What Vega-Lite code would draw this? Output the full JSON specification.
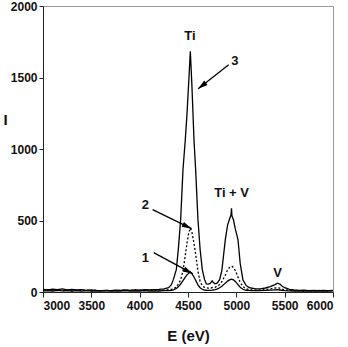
{
  "$schema": "https://vega.github.io/schema/vega-lite/v6.json",
  "width": 290,
  "height": 286,
  "autosize": {"type": "none"},
  "padding": {"left": 43, "top": 6, "right": 15, "bottom": 55},
  "background": "white",
  "config": {
    "view": {"stroke": "#999999", "strokeWidth": 1},
    "font": "Liberation Sans",
    "axis": {
      "labelFont": "Liberation Sans", "labelFontWeight": "bold", "labelFontSize": 12, "labelColor": "#111",
      "titleFont": "Liberation Sans", "titleFontWeight": "bold", "titleFontSize": 15, "titleColor": "#111",
      "domainColor": "#222", "tickColor": "#222", "grid": false, "tickSize": 4, "format": "d"
    }
  },
  "datasets": {
    "spec": [
      {"E":3000,"a":8,"b":12,"c":18},{"E":3050,"a":10,"b":16,"c":14},{"E":3100,"a":7,"b":11,"c":20},{"E":3150,"a":11,"b":14,"c":16},
      {"E":3200,"a":8,"b":10,"c":22},{"E":3250,"a":10,"b":13,"c":15},{"E":3300,"a":7,"b":9,"c":18},{"E":3350,"a":9,"b":12,"c":14},
      {"E":3400,"a":6,"b":10,"c":17},{"E":3450,"a":9,"b":13,"c":12},{"E":3500,"a":7,"b":9,"c":15},{"E":3550,"a":8,"b":12,"c":11},
      {"E":3600,"a":6,"b":8,"c":9},{"E":3650,"a":9,"b":11,"c":12},{"E":3700,"a":7,"b":9,"c":10},{"E":3750,"a":8,"b":12,"c":13},
      {"E":3800,"a":6,"b":10,"c":11},{"E":3850,"a":9,"b":13,"c":14},{"E":3900,"a":7,"b":11,"c":12},{"E":3950,"a":8,"b":14,"c":15},
      {"E":4000,"a":7,"b":12,"c":13},{"E":4050,"a":9,"b":10,"c":16},{"E":4100,"a":6,"b":13,"c":14},{"E":4150,"a":8,"b":11,"c":17},
      {"E":4200,"a":7,"b":14,"c":18},{"E":4250,"a":9,"b":13,"c":22},{"E":4300,"a":10,"b":16,"c":30},{"E":4328,"a":12,"b":19,"c":51},
      {"E":4350,"a":15,"b":22,"c":90},{"E":4379,"a":24,"b":34,"c":156},{"E":4400,"a":36,"b":55,"c":300},{"E":4424,"a":56,"b":85,"c":506},
      {"E":4448,"a":80,"b":148,"c":855},{"E":4472,"a":104,"b":255,"c":1065},{"E":4490,"a":120,"b":345,"c":1250},{"E":4510,"a":132,"b":420,"c":1500},
      {"E":4524,"a":140,"b":447,"c":1683},{"E":4540,"a":128,"b":420,"c":1450},{"E":4562,"a":105,"b":340,"c":1065},{"E":4579,"a":82,"b":265,"c":855},
      {"E":4603,"a":50,"b":145,"c":506},{"E":4625,"a":30,"b":75,"c":300},{"E":4648,"a":19,"b":43,"c":156},{"E":4670,"a":14,"b":33,"c":90},
      {"E":4690,"a":12,"b":29,"c":56},{"E":4710,"a":11,"b":27,"c":55},{"E":4730,"a":12,"b":27,"c":60},{"E":4750,"a":13,"b":30,"c":78},
      {"E":4760,"a":14,"b":30,"c":68},{"E":4780,"a":16,"b":33,"c":58},{"E":4800,"a":20,"b":40,"c":62},{"E":4827,"a":30,"b":52,"c":86},
      {"E":4850,"a":40,"b":72,"c":150},{"E":4886,"a":62,"b":118,"c":366},{"E":4910,"a":76,"b":155,"c":470},{"E":4930,"a":85,"b":172,"c":510},
      {"E":4945,"a":89,"b":179,"c":540},{"E":4950,"a":90,"b":180,"c":585},{"E":4955,"a":89,"b":179,"c":530},{"E":4970,"a":85,"b":172,"c":505},
      {"E":4990,"a":74,"b":150,"c":440},{"E":5017,"a":52,"b":105,"c":366},{"E":5040,"a":33,"b":68,"c":200},{"E":5068,"a":19,"b":38,"c":86},
      {"E":5100,"a":12,"b":22,"c":46},{"E":5125,"a":11,"b":18,"c":34},{"E":5150,"a":10,"b":15,"c":28},{"E":5200,"a":9,"b":13,"c":22},
      {"E":5250,"a":10,"b":14,"c":22},{"E":5300,"a":11,"b":17,"c":28},{"E":5350,"a":13,"b":22,"c":38},{"E":5400,"a":15,"b":28,"c":52},
      {"E":5425,"a":16,"b":30,"c":62},{"E":5450,"a":14,"b":27,"c":55},{"E":5475,"a":12,"b":20,"c":40},{"E":5500,"a":10,"b":15,"c":30},
      {"E":5550,"a":8,"b":11,"c":18},{"E":5600,"a":7,"b":9,"c":14},{"E":5650,"a":8,"b":10,"c":12},{"E":5700,"a":6,"b":8,"c":13},
      {"E":5750,"a":8,"b":10,"c":10},{"E":5800,"a":7,"b":9,"c":12},{"E":5850,"a":8,"b":11,"c":9},{"E":5900,"a":6,"b":8,"c":11},
      {"E":5950,"a":7,"b":10,"c":10},{"E":6000,"a":8,"b":9,"c":12}
    ],
    "labels": [
      {"E":4520,"I":1790,"t":"Ti"},
      {"E":4985,"I":1612,"t":"3"},
      {"E":4060,"I":611,"t":"2"},
      {"E":4060,"I":240,"t":"1"},
      {"E":4951,"I":694,"t":"Ti + V"},
      {"E":5427,"I":135,"t":"V"}
    ],
    "arrows": [
      {"id":"3","E":4921,"I":1589,"E2":4605,"I2":1421},
      {"id":"2","E":4134,"I":576,"E2":4537,"I2":443},
      {"id":"1","E":4145,"I":275,"E2":4548,"I2":128}
    ]
  },
  "layer": [
    {
      "data": {"name": "spec"},
      "mark": {"type": "line", "color": "black", "strokeWidth": 1.3},
      "encoding": {
        "x": {"field": "E", "type": "quantitative", "scale": {"domain": [3000, 6000], "nice": false},
              "axis": {"values": [3000,3500,4000,4500,5000,5500,6000], "title": "E (eV)", "labelPadding": 3, "tickSize": 5, "titleY": 43, "titleBaseline": "middle"}},
        "y": {"field": "c", "type": "quantitative", "scale": {"domain": [0, 2000], "nice": false},
              "axis": {"values": [0,500,1000,1500,2000], "title": "I", "titleAngle": 0, "titleX": -40, "titleY": 113, "titleAlign": "left", "titleBaseline": "middle", "labelPadding": 2}}
      }
    },
    {
      "data": {"name": "spec"},
      "mark": {"type": "line", "color": "black", "strokeWidth": 1.3, "strokeDash": [2, 2]},
      "encoding": {
        "x": {"field": "E", "type": "quantitative"},
        "y": {"field": "b", "type": "quantitative"}
      }
    },
    {
      "data": {"name": "spec"},
      "mark": {"type": "line", "color": "black", "strokeWidth": 1.3},
      "encoding": {
        "x": {"field": "E", "type": "quantitative"},
        "y": {"field": "a", "type": "quantitative"}
      }
    },
    {
      "data": {"name": "labels"},
      "mark": {"type": "text", "font": "Liberation Sans", "fontWeight": "bold", "fontSize": 13, "color": "#111", "baseline": "middle", "align": "center"},
      "encoding": {
        "x": {"field": "E", "type": "quantitative"},
        "y": {"field": "I", "type": "quantitative"},
        "text": {"field": "t"}
      }
    },
    {
      "data": {"name": "arrows"},
      "mark": {"type": "rule", "color": "black", "strokeWidth": 1.3},
      "encoding": {
        "x": {"field": "E", "type": "quantitative"},
        "y": {"field": "I", "type": "quantitative"},
        "x2": {"field": "E2"},
        "y2": {"field": "I2"}
      }
    },
    {
      "data": {"name": "arrows"},
      "transform": [{"filter": "datum.id == '3'"}],
      "mark": {"type": "point", "filled": true, "color": "black", "opacity": 1, "size": 150, "angle": 232, "shape": "M0,0L-0.45,1.6L0.45,1.6Z"},
      "encoding": {
        "x": {"field": "E2", "type": "quantitative"},
        "y": {"field": "I2", "type": "quantitative"}
      }
    },
    {
      "data": {"name": "arrows"},
      "transform": [{"filter": "datum.id == '2'"}],
      "mark": {"type": "point", "filled": true, "color": "black", "opacity": 1, "size": 150, "angle": 116, "shape": "M0,0L-0.45,1.6L0.45,1.6Z"},
      "encoding": {
        "x": {"field": "E2", "type": "quantitative"},
        "y": {"field": "I2", "type": "quantitative"}
      }
    },
    {
      "data": {"name": "arrows"},
      "transform": [{"filter": "datum.id == '1'"}],
      "mark": {"type": "point", "filled": true, "color": "black", "opacity": 1, "size": 150, "angle": 118, "shape": "M0,0L-0.45,1.6L0.45,1.6Z"},
      "encoding": {
        "x": {"field": "E2", "type": "quantitative"},
        "y": {"field": "I2", "type": "quantitative"}
      }
    }
  ]
}
